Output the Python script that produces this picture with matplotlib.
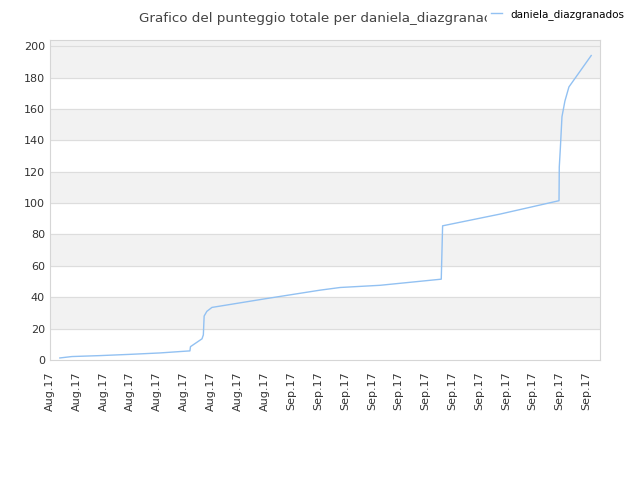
import matplotlib
matplotlib.use("Agg")
import matplotlib.pyplot as plt

# x position in label slots (0 = first "Aug.17" tick), total score
days = [0.37, 0.82, 1.87, 2.99, 4.10, 5.04, 5.22, 5.24, 5.67, 5.72, 5.75,
        5.85, 6.04, 8.02, 10.07, 10.82, 12.31, 14.59, 14.64, 16.79, 18.98,
        18.99, 19.03, 19.09, 19.20, 19.35, 20.18]
scores = [1.3, 2.2, 2.8, 3.6, 4.5, 5.6, 5.8, 8.5, 13.5, 16, 28,
          31, 33.5, 39.0, 44.5, 46.2, 47.6, 51.5, 85.5, 93, 101.5,
          123, 135, 155, 165, 174, 194]
tick_labels = ["Aug.17"] * 9 + ["Sep.17"] * 12
y_ticks = list(range(0, 201, 20))

fig = plt.figure(figsize=(6.4, 4.8), dpi=100)
ax = fig.add_axes([0.078, 0.25, 0.86, 0.667])

for lo in range(20, 200, 40):
    ax.axhspan(lo, lo + 20, color="#f2f2f2", zorder=0)
ax.axhspan(200, 210, color="#f2f2f2", zorder=0)
for v in y_ticks[1:]:
    ax.axhline(v, color="#dddddd", lw=0.8, zorder=1)

ax.plot(days, scores, color="#92c1f2", lw=1, zorder=3,
        label="daniela_diazgranados")

ax.set_xlim(0, 20.52)
ax.set_ylim(0, 204)
ax.set_xticks(range(len(tick_labels)))
ax.set_xticklabels(tick_labels, rotation=90, fontsize=8, color="#333333")
ax.set_yticks(y_ticks)
ax.tick_params(axis="y", labelsize=8, labelcolor="#333333", length=0)
ax.tick_params(axis="x", length=0, pad=8)
for s in ax.spines.values():
    s.set_color("#d6d6d6")

fig.text(0.505, 0.975, "Grafico del punteggio totale per daniela_diazgranados",
         ha="center", va="top", fontsize=9.7, color="#444444")
leg = fig.legend(loc="upper right", bbox_to_anchor=(0.985, 0.995),
                 fontsize=7.5, frameon=True, handlelength=1.0,
                 borderaxespad=0.2)
leg.get_frame().set_edgecolor("white")
leg.get_frame().set_alpha(1)

fig.savefig("out.png")
